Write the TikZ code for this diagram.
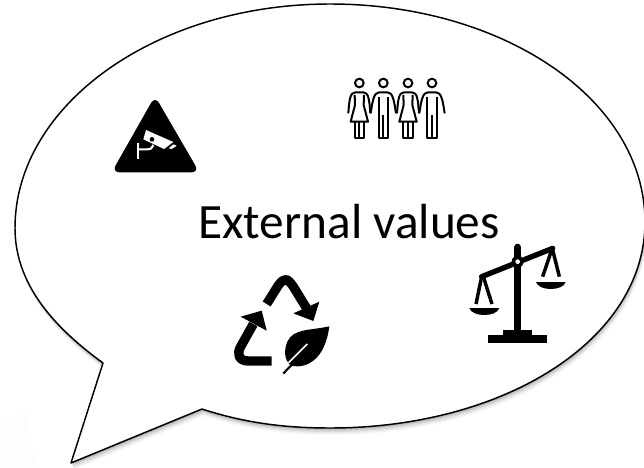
\documentclass[tikz,border=0pt]{standalone}
\usepackage{fontspec}
\setmainfont{Carlito}
\begin{document}
\begin{tikzpicture}[x=.75pt,y=-.75pt,line join=round]
    \tikzstyle{bubble}=[draw=black,line width=1.1pt,fill=white]
    \tikzstyle{icon}=[fill=black,draw=none]
    \tikzstyle{thin icon}=[draw=black,line width=1.5pt,fill=none]
    \tikzstyle{zoomed}=[x=.25pt,y=-.25pt]
    \def\bubblepath{(71,463) -- (103,363) .. controls (55,328) and (15,285) .. (15,228) .. controls (15,105) and (156,4) .. (330,4) .. controls (504,4) and (645,100) .. (645,222) .. controls (645,340) and (504,428) .. (330,428) .. controls (285,428) and (245,423) .. (202,409) -- cycle}

    \useasboundingbox (0,0) rectangle (644,468);
    \fill[black!.6] (0,424) -- (25,410) -- (38,468) -- (0,468) -- cycle;

    \foreach \off/\op in {7/.03,5.5/.05,4/.07,2.5/.09,1.2/.12}
        \fill[black,opacity=\op,shift={(.3*\off,\off)}] \bubblepath;
    \draw[bubble] \bubblepath;

    \node[font=\fontsize{37}{44}\selectfont] (values) at (349,222) {External values};

    % camera sign
    \begin{scope}[shift={(90,80)},zoomed]
        \fill[icon,rounded corners=6pt] (195,48) -- (328,277) -- (65,277) -- cycle;
        \fill[white] (168,150) -- (250,186) -- (222,207) -- (160,178) -- cycle;
        \fill[white] (236,205) -- (250,193) -- (260,197) -- (245,207) -- cycle;
        \fill[black] (186,178) circle (7);
        \draw[white,line width=1.6pt] (143,190) -- (143,238);
        \draw[white,line width=1.6pt] (143,208) -- (172,208) .. controls (182,208) .. (190,195);
    \end{scope}

    % people
    \begin{scope}[shift={(320,60)},zoomed]
        \foreach \hx in {118,264} {
            \draw[thin icon] (\hx,69) circle (13);
            \draw[thin icon] (\hx-33,160) .. controls (\hx-30,120) and (\hx-28,97) .. (\hx-12,97) -- (\hx+12,97) .. controls (\hx+28,97) and (\hx+30,120) .. (\hx+33,160);
            \draw[thin icon] (\hx-14,105) -- (\hx-13,135) -- (\hx-26,185) -- (\hx+26,185) -- (\hx+13,135) -- (\hx+14,105);
            \draw[thin icon] (\hx-14,185) -- (\hx-14,235) -- (\hx+14,235) -- (\hx+14,185);
            \draw[thin icon] (\hx,185) -- (\hx,235);
        }
        \foreach \hx in {190,336} {
            \draw[thin icon] (\hx,69) circle (13);
            \draw[thin icon] (\hx-38,160) .. controls (\hx-32,120) and (\hx-28,97) .. (\hx-12,97) -- (\hx+12,97) .. controls (\hx+28,97) and (\hx+32,120) .. (\hx+38,160);
            \draw[thin icon] (\hx-14,112) -- (\hx-14,235) -- (\hx+14,235) -- (\hx+14,112);
            \draw[thin icon] (\hx,165) -- (\hx,235);
        }
    \end{scope}

    % recycling leaf
    \begin{scope}[shift={(210,260)},zoomed]
        \draw[black,line width=7pt] (170,132) -- (205,76) .. controls (225,50) and (232,55) .. (250,80) -- (290,145);
        \fill[icon] (328,125) -- (310,183) -- (250,160) -- cycle;
        \draw[black,line width=7pt] (185,303) -- (115,303) .. controls (85,303) and (80,280) .. (92,260) -- (130,192);
        \fill[icon] (92,170) -- (155,152) -- (170,212) -- cycle;
        \fill[icon] (358,199) .. controls (300,212) and (250,205) .. (232,245) .. controls (220,275) and (225,300) .. (240,315) -- (218,338) -- (222,343) -- (246,318) .. controls (290,325) and (345,300) .. (358,199) -- cycle;
        \draw[white,line width=1.2pt] (292,252) -- (236,308);
    \end{scope}

    % scales
    \begin{scope}[shift={(450,230)},zoomed]
        \draw[black,line width=5.5pt,line cap=round] (203,52) -- (203,300);
        \draw[black,line width=4pt,line cap=round] (95,140) -- (308,55);
        \fill[black] (203,95) circle (18);
        \fill[white] (203,95) circle (7);
        \draw[black,line width=2.6pt] (95,140) -- (78,222);
        \draw[black,line width=2.6pt] (100,140) -- (126,222);
        \draw[black,line width=2.6pt] (305,60) -- (278,140);
        \draw[black,line width=2.6pt] (308,60) -- (328,140);
        \fill[icon] (58,234) -- (148,234) .. controls (140,262) and (66,262) .. (58,234) -- cycle;
        \fill[icon] (258,156) -- (347,156) .. controls (339,184) and (266,184) .. (258,156) -- cycle;
        \fill[icon] (160,300) rectangle (246,318);
        \fill[icon] (115,316) rectangle (292,339);
    \end{scope}
\end{tikzpicture}
\end{document}
